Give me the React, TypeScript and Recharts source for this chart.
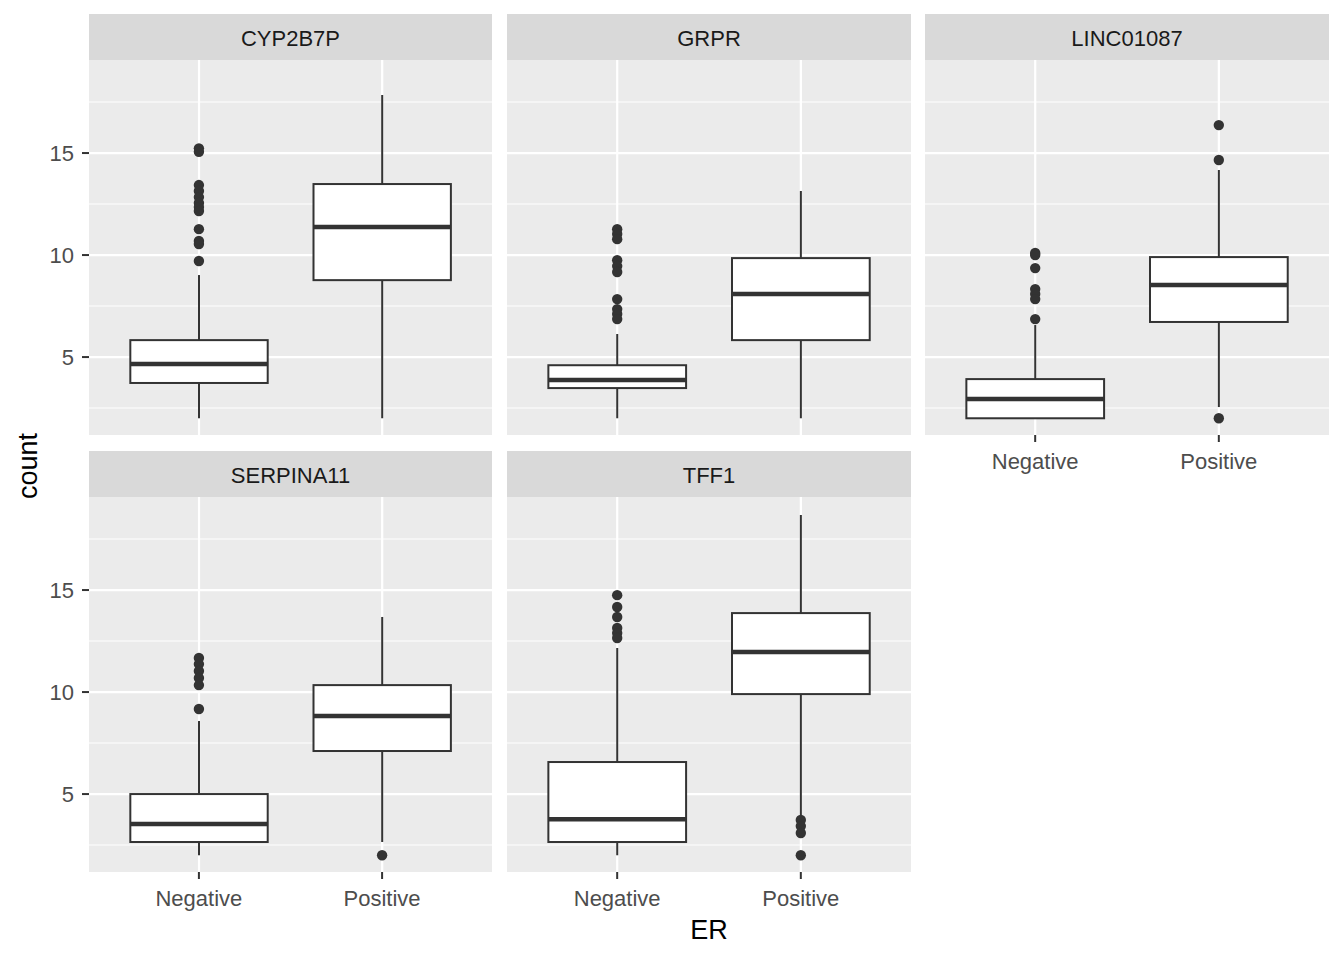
import { ComposedChart, Bar, Scatter, XAxis, YAxis, CartesianGrid } from 'recharts'

const GENES = ['CYP2B7P', 'GRPR', 'LINC01087', 'SERPINA11', 'TFF1']
const ER = ['Negative', 'Positive']

// per gene: [Negative, Positive]
const WHISKER_LOW = [[2.0, 2.0], [2.0, 2.0], [2.0, 2.55], [2.0, 2.65], [2.0, 3.97]]
const Q1 = [[3.73, 8.77], [3.48, 5.83], [2.0, 6.72], [2.65, 7.11], [2.65, 9.9]]
const MEDIAN = [[4.66, 11.37], [3.87, 8.09], [2.94, 8.53], [3.53, 8.82], [3.77, 11.96]]
const Q3 = [[5.83, 13.48], [4.6, 9.85], [3.92, 9.9], [5.0, 10.34], [6.57, 13.87]]
const WHISKER_HIGH = [[9.02, 17.84], [6.13, 13.14], [6.57, 14.17], [8.58, 13.68], [12.16, 18.68]]

const OUTLIERS_NEG = [
  [15.23, 15.06, 13.43, 13.14, 12.84, 12.55, 12.35, 12.16, 11.27, 10.69, 10.54, 9.71],
  [11.27, 11.03, 10.78, 9.75, 9.46, 9.17, 7.84, 7.35, 7.11, 6.86],
  [10.1, 10.0, 9.36, 8.33, 8.09, 7.84, 6.86],
  [11.67, 11.37, 11.03, 10.69, 10.34, 9.17],
  [14.75, 14.17, 13.68, 13.14, 12.89, 12.65]
]
const OUTLIERS_POS = [[], [], [16.37, 14.66, 2.0], [2.0], [3.73, 3.43, 3.09, 2.0]]

const Y_DOMAIN: [number, number] = [1.18, 19.56]
const MAJOR = [5, 10, 15]
const MINOR = [2.5, 7.5, 12.5, 17.5]

const FONT = '"Liberation Sans", Arial, sans-serif'
const INK = '#333333'
const COL_X = [89, 507, 925]
const COL_W = [403, 404, 404]
const ROW_Y = [14, 451]
const STRIP_H = 46
const PANEL_H = 375
const YAXIS_W = 89

function BoxShape(props: any) {
  const { x, y, width, height, payload, background } = props
  const cx = x + width / 2
  const { lo, hi, q1, med, q3 } = payload
  const py = (v: number) => (hi === lo ? y : y + ((hi - v) / (hi - lo)) * height)
  return (
    <g>
      {background && (
        <line x1={cx} x2={cx} y1={background.y} y2={background.y + background.height} stroke="#fff" strokeWidth={2.2} />
      )}
      <line x1={cx} x2={cx} y1={py(hi)} y2={py(lo)} stroke={INK} strokeWidth={2} />
      <rect x={x} y={py(q3)} width={width} height={py(q1) - py(q3)} fill="#fff" stroke={INK} strokeWidth={2} />
      <line x1={x} x2={x + width} y1={py(med)} y2={py(med)} stroke={INK} strokeWidth={4.5} />
    </g>
  )
}

function OutlierDot(props: any) {
  return <circle cx={props.cx} cy={props.cy} r={5.2} fill={INK} />
}

function Panel({ gi }: { gi: number }) {
  const row = gi < 3 ? 0 : 1
  const col = gi % 3
  const showX = row === 1 || col === 2
  const showY = col === 0
  const plotW = COL_W[col]
  const chartW = plotW + (showY ? YAXIS_W : 0)
  const band = plotW / 2.2
  const pad = band * 0.1

  const data = ER.map((er, k) => ({
    er,
    lo: WHISKER_LOW[gi][k],
    q1: Q1[gi][k],
    med: MEDIAN[gi][k],
    q3: Q3[gi][k],
    hi: WHISKER_HIGH[gi][k],
    range: [WHISKER_LOW[gi][k], WHISKER_HIGH[gi][k]]
  }))
  const outliers = [
    ...OUTLIERS_NEG[gi].map((v) => ({ er: 'Negative', v })),
    ...OUTLIERS_POS[gi].map((v) => ({ er: 'Positive', v }))
  ]

  const top = ROW_Y[row]
  return (
    <>
      <div
        style={{
          position: 'absolute',
          left: COL_X[col],
          top,
          width: plotW,
          height: STRIP_H,
          overflow: 'hidden',
          background: '#D9D9D9',
          color: '#1A1A1A',
          fontSize: 22,
          lineHeight: `${STRIP_H + 4}px`,
          textAlign: 'center'
        }}
      >
        {GENES[gi]}
      </div>
      <div style={{ position: 'absolute', left: COL_X[col] - (showY ? YAXIS_W : 0), top: top + STRIP_H }}>
        <ComposedChart width={chartW} height={PANEL_H + 50} data={data} margin={{ top: 0, right: 0, bottom: 0, left: 0 }}>
          <CartesianGrid fill="#EBEBEB" vertical={false} horizontalValues={MINOR} stroke="#FFFFFF" strokeWidth={1.1} />
          <CartesianGrid vertical={false} horizontalValues={MAJOR} stroke="#FFFFFF" strokeWidth={2.2} />
          <XAxis
            dataKey="er"
            allowDuplicatedCategory={false}
            padding={{ left: pad, right: pad }}
            height={50}
            axisLine={false}
            tickSize={showX ? 7 : 0}
            tickMargin={11}
            tickLine={showX ? { stroke: INK, strokeWidth: 2 } : false}
            tick={showX ? { fill: '#4D4D4D', fontSize: 22, fontFamily: FONT } : false}
          />
          <YAxis
            type="number"
            domain={Y_DOMAIN}
            allowDataOverflow
            ticks={MAJOR}
            hide={!showY}
            width={YAXIS_W}
            axisLine={false}
            tickSize={7}
            tickMargin={8}
            tickLine={{ stroke: INK, strokeWidth: 2 }}
            tick={{ fill: '#4D4D4D', fontSize: 22, fontFamily: FONT }}
          />
          <Bar dataKey="range" barSize={band * 0.75} shape={BoxShape} isAnimationActive={false} />
          <Scatter data={outliers} dataKey="v" shape={OutlierDot} isAnimationActive={false} />
        </ComposedChart>
      </div>
    </>
  )
}

export default function App() {
  return (
    <div
      style={{
        position: 'absolute',
        left: 0,
        top: 0,
        width: 1344,
        height: 960,
        background: '#fff',
        fontFamily: FONT
      }}
    >
      {GENES.map((g, i) => (
        <Panel key={g} gi={i} />
      ))}
      <div
        style={{
          position: 'absolute',
          left: 28,
          top: 466,
          transform: 'translate(-50%, -50%) rotate(-90deg)',
          fontSize: 27,
          color: '#000',
          whiteSpace: 'nowrap'
        }}
      >
        count
      </div>
      <div
        style={{
          position: 'absolute',
          left: 709,
          top: 930,
          transform: 'translate(-50%, -50%)',
          fontSize: 27,
          color: '#000'
        }}
      >
        ER
      </div>
    </div>
  )
}
